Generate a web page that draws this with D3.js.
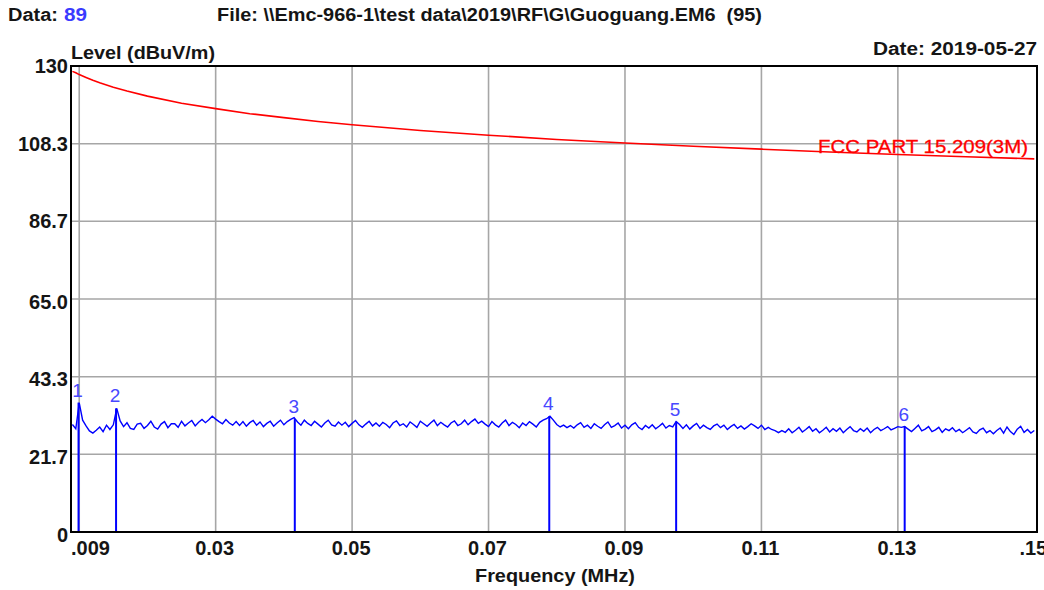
<!DOCTYPE html>
<html><head><meta charset="utf-8">
<script src="https://cdn.jsdelivr.net/npm/d3@7/dist/d3.min.js"></script>
<style>body{margin:0;background:#fff}svg{display:block}text{font-family:Arial,"Liberation Sans",sans-serif}</style>
</head><body><svg id="c" width="1044" height="590"></svg>
<script>
// ---- data ----
const yTickValues = [0, 21.7, 43.3, 65.0, 86.7, 108.3, 130];
const yTickLabels = ["0", "21.7", "43.3", "65.0", "86.7", "108.3", "130"];
const xGridValues = [0.01, 0.03, 0.05, 0.07, 0.09, 0.11, 0.13];
const xTickValues = [0.009, 0.03, 0.05, 0.07, 0.09, 0.11, 0.13, 0.15];
const xTickLabels = [".009", "0.03", "0.05", "0.07", "0.09", "0.11", "0.13", ".15"];

const limitFreq = [0.009,0.0095,0.010,0.011,0.012,0.013,0.015,0.017,0.020,0.025,0.030,0.035,0.040,0.045,0.050,0.060,0.070,0.080,0.090,0.100,0.110,0.120,0.130,0.140,0.150];
const limitLevel = [128.5,128.1,127.6,126.8,126.0,125.3,124.1,123.0,121.6,119.6,118.1,116.7,115.6,114.5,113.6,112.0,110.7,109.5,108.5,107.6,106.8,106.0,105.3,104.7,104.1];

const traceStart = 0.009, traceStep = 0.0005;
const traceLevel = [
30.0,28.8,36.0,31.2,29.6,28.2,27.6,28.4,29.3,28.0,
29.8,28.6,29.9,34.5,31.0,29.4,30.5,28.9,28.6,30.1,
30.3,28.9,29.7,30.9,29.3,28.7,30.1,30.8,29.1,30.2,
30.2,29.2,30.9,29.6,30.4,31.1,29.6,30.6,31.4,30.5,
31.3,32.3,31.5,30.8,30.2,31.4,30.4,29.8,30.8,29.7,
30.8,29.5,30.5,31.1,29.8,30.7,29.4,30.3,30.9,29.5,
30.4,31.2,29.9,30.8,31.4,31.9,30.7,29.8,31.2,30.3,
29.7,30.9,30.1,29.3,30.4,31.2,29.9,29.5,30.7,29.8,
30.6,29.4,30.3,31.1,29.9,29.2,30.1,30.9,29.6,30.4,
29.5,30.6,30.0,29.1,30.4,31.0,29.7,30.2,29.3,30.7,
30.0,29.2,30.9,30.2,29.5,30.4,31.2,29.7,30.6,29.9,
29.3,30.4,31.0,29.7,30.2,31.2,29.9,30.8,31.5,30.3,
30.9,30.1,29.4,30.8,29.9,29.3,30.4,31.2,29.7,30.6,
30.0,29.1,30.4,29.7,30.8,30.1,29.3,30.6,31.2,31.6,
32.3,31.2,30.0,29.3,29.8,29.1,29.7,29.0,29.9,30.5,
29.2,29.8,28.9,30.2,29.5,28.9,29.9,30.7,29.2,29.7,
30.4,29.0,29.8,28.8,29.9,30.5,29.2,28.6,29.7,29.0,
29.9,28.8,29.5,30.3,29.0,29.7,29.3,30.8,30.0,28.9,
29.9,28.7,29.6,30.3,28.9,29.8,29.1,28.6,29.6,30.1,
29.1,29.8,28.6,29.4,30.0,28.9,29.6,28.7,29.4,30.2,
29.6,28.9,29.8,28.6,29.2,28.6,28.3,27.7,28.3,27.8,
28.8,27.7,28.4,29.2,27.9,28.6,29.4,28.1,28.8,27.7,
28.4,29.2,27.9,28.8,28.1,29.0,27.7,28.6,29.4,28.3,
27.9,28.8,28.1,29.0,27.7,28.6,29.2,28.3,28.8,29.4,
28.5,28.9,29.4,29.2,29.4,28.7,28.0,28.9,29.8,28.2,
28.7,29.4,28.0,28.5,29.2,27.8,28.8,28.3,29.1,28.0,
28.6,27.7,28.4,29.1,27.9,27.5,28.5,29.0,27.7,28.3,
27.4,28.3,29.0,27.6,29.3,28.0,27.2,28.7,29.5,27.8,
28.6,27.6,28.3];

const markerIds = ["1","2","3","4","5","6"];
const markerFreq = [0.0099, 0.0154, 0.0416, 0.0789, 0.0975, 0.1310];
const markerLevel = [36.1, 34.5, 31.5, 32.3, 30.8, 29.4];

// ---- drawing ----
const svg = d3.select("#c");
const x = d3.scaleLinear().domain([0.009, 0.15]).range([72.4, 1034.3]);
const y = d3.scaleLinear().domain([0, 130]).range([532, 66]);
const dark = "#151515";

// grid
svg.append("g").selectAll("line").data(yTickValues.slice(1, -1)).join("line")
  .attr("x1", 71).attr("x2", 1037).attr("y1", d => y(d)).attr("y2", d => y(d))
  .attr("stroke", "#a6a6a6").attr("stroke-width", 1.6);
svg.append("g").selectAll("line").data(xGridValues).join("line")
  .attr("x1", d => x(d)).attr("x2", d => x(d)).attr("y1", 66).attr("y2", 532)
  .attr("stroke", "#a6a6a6").attr("stroke-width", 1.6);

// limit line
const limitData = limitFreq.map((f, i) => [f, limitLevel[i]]);
svg.append("path").datum(limitData)
  .attr("d", d3.line().x(d => x(d[0])).y(d => y(d[1])))
  .attr("fill", "none").attr("stroke", "#ff0000").attr("stroke-width", 1.6);
svg.append("text").attr("x", 1028).attr("y", 153).attr("text-anchor", "end")
  .attr("fill", "#ff0000").attr("font-size", 19)
  .attr("stroke", "#ff0000").attr("stroke-width", 0.3)
  .attr("textLength", 210).attr("lengthAdjust", "spacingAndGlyphs")
  .text("FCC PART 15.209(3M)");

// trace
const traceData = traceLevel.map((v, i) => [traceStart + i * traceStep, v]);
svg.append("path").datum(traceData)
  .attr("d", d3.line().x(d => x(d[0])).y(d => y(d[1])))
  .attr("fill", "none").attr("stroke", "#0000ff").attr("stroke-width", 1.4);

// markers
const markers = markerIds.map((id, i) => ({id, f: markerFreq[i], v: markerLevel[i]}));
svg.append("g").selectAll("line").data(markers).join("line")
  .attr("x1", d => x(d.f)).attr("x2", d => x(d.f)).attr("y1", y(0)).attr("y2", d => y(d.v))
  .attr("stroke", "#0000ff").attr("stroke-width", 2);
svg.append("g").selectAll("text").data(markers).join("text")
  .attr("x", d => x(d.f) - 1).attr("y", d => y(d.v) - 6).attr("text-anchor", "middle")
  .attr("font-size", 19).attr("fill", "#4848ff").text(d => d.id);

// frame
svg.append("rect").attr("x", 71).attr("y", 66).attr("width", 966).attr("height", 466)
  .attr("fill", "none").attr("stroke", "#000").attr("stroke-width", 2);

// y tick labels
svg.append("g").selectAll("text").data(yTickValues).join("text")
  .attr("x", 68).attr("y", (d, i) => y(d) + (i >= 4 ? 7 : 9.5)).attr("text-anchor", "end")
  .attr("font-size", 20).attr("font-weight", "bold").attr("fill", dark)
  .text((d, i) => yTickLabels[i]);

// x tick labels
svg.append("g").selectAll("text").data(xTickValues).join("text")
  .attr("x", (d, i) => i === 0 ? 71 : x(d) - 1)
  .attr("y", 555).attr("text-anchor", (d, i) => i === 0 ? "start" : "middle")
  .attr("font-size", 20).attr("font-weight", "bold").attr("fill", dark)
  .text((d, i) => xTickLabels[i]);

// titles
svg.append("text").attr("x", 555).attr("y", 582).attr("text-anchor", "middle")
  .attr("font-size", 19).attr("font-weight", "bold").attr("fill", dark)
  .attr("textLength", 160).attr("lengthAdjust", "spacingAndGlyphs")
  .text("Frequency (MHz)");
svg.append("text").attr("x", 71).attr("y", 59)
  .attr("font-size", 18).attr("font-weight", "bold").attr("fill", dark)
  .attr("textLength", 144).attr("lengthAdjust", "spacingAndGlyphs")
  .text("Level (dBuV/m)");
svg.append("text").attr("x", 873).attr("y", 55)
  .attr("font-size", 18).attr("font-weight", "bold").attr("fill", dark)
  .attr("textLength", 164).attr("lengthAdjust", "spacingAndGlyphs")
  .text("Date: 2019-05-27");
svg.append("text").attr("x", 8).attr("y", 21)
  .attr("font-size", 18).attr("font-weight", "bold").attr("fill", dark)
  .attr("textLength", 50).attr("lengthAdjust", "spacingAndGlyphs")
  .text("Data:");
svg.append("text").attr("x", 64).attr("y", 21)
  .attr("font-size", 18).attr("font-weight", "bold").attr("fill", "#3a3aff")
  .attr("textLength", 23).attr("lengthAdjust", "spacingAndGlyphs")
  .text("89");
svg.append("text").attr("x", 217).attr("y", 21).style("white-space", "pre")
  .attr("font-size", 18).attr("font-weight", "bold").attr("fill", dark)
  .attr("textLength", 545).attr("lengthAdjust", "spacingAndGlyphs")
  .text("File: \\\\Emc-966-1\\test data\\2019\\RF\\G\\Guoguang.EM6  (95)");
</script></body></html>
